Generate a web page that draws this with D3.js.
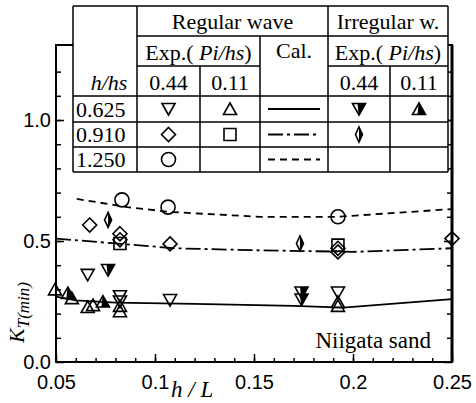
<!DOCTYPE html>
<html>
<head>
<meta charset="utf-8">
<script src="https://cdn.jsdelivr.net/npm/d3@7"></script>
<style>
  body { margin: 0; background: #fff; }
  svg { display: block; }
</style>
</head>
<body>
<div id="chart"></div>
<script>
// measured points, [h/L, K_T(min)]
const regDown = [[0.066, 0.36], [0.0823, 0.272], [0.0823, 0.25], [0.1076, 0.256], [0.1924, 0.287]]      // regular, Pi/hs 0.44, h/hs 0.625
const regUp = [[0.0495, 0.30], [0.058, 0.264], [0.066, 0.227], [0.0687, 0.235], [0.0823, 0.232], [0.0823, 0.21], [0.1924, 0.248], [0.1924, 0.232]] // regular, 0.11, 0.625
const irrDown = [[0.0763, 0.38], [0.174, 0.287], [0.174, 0.258]]   // irregular, 0.44, 0.625
const irrUp = [[0.056, 0.285], [0.0737, 0.25]]                      // irregular, 0.11, 0.625
const regDiamond = [[0.067, 0.566], [0.0823, 0.53], [0.0823, 0.505], [0.1076, 0.488], [0.1924, 0.47], [0.1924, 0.455], [0.25, 0.51]] // regular, 0.44, 0.910
const regSquare = [[0.0823, 0.49], [0.1924, 0.483]]                 // regular, 0.11, 0.910
const irrDiamond = [[0.0763, 0.587], [0.1732, 0.49]]                // irregular, 0.44, 0.910
const regCircle = [[0.0833, 0.67], [0.1066, 0.64], [0.1924, 0.60]] // regular, 0.44, 1.250

// calculated curves
const calSolid = [[0.05, 0.27], [0.06, 0.255], [0.08, 0.245], [0.12, 0.24], [0.17, 0.232], [0.195, 0.225], [0.25, 0.26]]
const calDashDot = [[0.05, 0.51], [0.08, 0.49], [0.11, 0.47], [0.15, 0.462], [0.2, 0.455], [0.25, 0.47]]
const calDashed = [[0.0605, 0.674], [0.086, 0.64], [0.1076, 0.62], [0.153, 0.6], [0.192, 0.6], [0.25, 0.632]]

const xTicks = [0.05, 0.1, 0.15, 0.2, 0.25]
const xTickLabels = ['0.05', '0.1', '0.15', '0.2', '0.25']
const yTicks = [0, 0.5, 1.0]
const yTickLabels = ['0.0', '0.5', '1.0']

const hhsRows = ['0.625', '0.910', '1.250']

const width = 476
const height = 403
const sans = '"Liberation Sans", Arial, sans-serif'
const serif = '"Liberation Serif", "Times New Roman", serif'

const svg = d3.select('#chart').append('svg')
  .attr('width', width)
  .attr('height', height)

const x = d3.scaleLinear().domain([0.05, 0.25]).range([56, 452])
const y = d3.scaleLinear().domain([0, 1.31]).range([362, 45])

// minor ticks
svg.append('g')
  .attr('transform', 'translate(0,362)')
  .call(d3.axisBottom(x).tickValues(d3.range(0.06, 0.25, 0.01)).tickSize(-4).tickFormat(''))
svg.append('g')
  .attr('transform', 'translate(56,0)')
  .call(d3.axisLeft(y).tickValues(d3.range(0.1, 1.3, 0.1)).tickSize(-5).tickFormat(''))
svg.append('g')
  .attr('transform', 'translate(452,0)')
  .call(d3.axisRight(y).tickValues(d3.range(0.1, 1.3, 0.1)).tickSize(-5).tickFormat(''))

// major ticks + labels
svg.append('g')
  .attr('class', 'xaxis')
  .attr('transform', 'translate(0,362)')
  .call(d3.axisBottom(x).tickValues(xTicks).tickSize(-8).tickPadding(13)
    .tickFormat((d, i) => xTickLabels[i]))
svg.append('g')
  .attr('class', 'yaxis')
  .attr('transform', 'translate(56,0)')
  .call(d3.axisLeft(y).tickValues(yTicks).tickSize(-8).tickPadding(5)
    .tickFormat((d, i) => yTickLabels[i]))
svg.append('g')
  .attr('transform', 'translate(452,0)')
  .call(d3.axisRight(y).tickValues(yTicks).tickSize(-8).tickFormat(''))

svg.selectAll('.domain').remove()
svg.selectAll('.tick line').attr('stroke', '#000').attr('stroke-width', 1.5)
svg.selectAll('.xaxis text, .yaxis text')
  .style('font-family', sans).style('font-size', '20px').attr('fill', '#000')

// frame
svg.append('rect')
  .attr('x', 56).attr('y', 45)
  .attr('width', 396).attr('height', 317)
  .attr('fill', 'none').attr('stroke', '#000').attr('stroke-width', 2)
svg.append('line')
  .attr('x1', 452).attr('x2', 452).attr('y1', 45).attr('y2', 362)
  .attr('stroke', '#000').attr('stroke-width', 3)

// calculated curves
const line = d3.line().x(d => x(d[0])).y(d => y(d[1]))
const curveStyles = [
  {data: calSolid, dash: null},
  {data: calDashDot, dash: '15,4,3,4'},
  {data: calDashed, dash: '7,5'}
]
curveStyles.forEach(c => {
  svg.append('path')
    .datum(c.data)
    .attr('d', line)
    .attr('fill', 'none')
    .attr('stroke', '#000')
    .attr('stroke-width', 1.8)
    .attr('stroke-dasharray', c.dash)
})

// marker shapes, centred on 0,0
const shapes = {
  down: {outline: 'M-6.5,-5.5L6.5,-5.5L0,6Z'},
  up: {outline: 'M-6.5,5.5L6.5,5.5L0,-6Z'},
  downHalf: {outline: 'M-6.5,-5.5L6.5,-5.5L0,6Z', fill: 'M-1.5,-5.5L6.5,-5.5L0,6L-0.5,4.5Z'},
  upHalf: {outline: 'M-6.5,5.5L6.5,5.5L0,-6Z', fill: 'M-1.5,5.5L6.5,5.5L0,-6L-0.5,-4.5Z'},
  diamond: {outline: 'M0,-7L7,0L0,7L-7,0Z'},
  thinDiamond: {outline: 'M0,-7.5L3.5,0L0,7.5L-3.5,0Z', fill: 'M0,-7.5L3.5,0L0,7.5Z'},
  square: {outline: 'M-6,-6H6V6H-6Z'},
  circle: {outline: 'M7,0A7,7 0 1 1 -7,0A7,7 0 1 1 7,0Z'}
}

function drawMarker(g, shape, cx, cy) {
  const s = shapes[shape]
  const m = g.append('g').attr('transform', 'translate(' + cx + ',' + cy + ')')
  if (s.fill) m.append('path').attr('d', s.fill).attr('fill', '#000')
  m.append('path').attr('d', s.outline)
    .attr('fill', 'none').attr('stroke', '#000').attr('stroke-width', 1.6)
}

const seriesList = [
  {data: regCircle, shape: 'circle'},
  {data: regDiamond, shape: 'diamond'},
  {data: regSquare, shape: 'square'},
  {data: irrDiamond, shape: 'thinDiamond'},
  {data: regDown, shape: 'down'},
  {data: regUp, shape: 'up'},
  {data: irrDown, shape: 'downHalf'},
  {data: irrUp, shape: 'upHalf'}
]
const pts = svg.append('g')
seriesList.forEach(s => {
  s.data.forEach(d => drawMarker(pts, s.shape, x(d[0]), y(d[1])))
})

// axis titles
svg.append('text')
  .attr('x', 171).attr('y', 397)
  .style('font-family', serif).style('font-size', '23px').style('font-style', 'italic')
  .text('h / L')

const yt = svg.append('text')
  .attr('transform', 'translate(24,343) rotate(-90)')
  .style('font-family', serif).style('font-style', 'italic')
yt.append('tspan').style('font-size', '22px').text('K')
yt.append('tspan').style('font-size', '17px').attr('dy', 5).text('T(min)')

svg.append('text')
  .attr('x', 431).attr('y', 348)
  .attr('text-anchor', 'end')
  .style('font-family', serif).style('font-size', '23px')
  .text('Niigata sand')

// legend table
const cols = [73, 137, 200, 260, 328, 390, 448]
const rows = [6, 36, 66, 96, 122, 147, 172]
const tbl = svg.append('g')
tbl.append('rect')
  .attr('x', cols[0]).attr('y', rows[0])
  .attr('width', cols[6] - cols[0]).attr('height', rows[6] - rows[0])
  .attr('fill', '#fff')

function seg(x1, y1, x2, y2) {
  tbl.append('line')
    .attr('x1', x1).attr('y1', y1).attr('x2', x2).attr('y2', y2)
    .attr('stroke', '#000').attr('stroke-width', 1.5)
}
seg(cols[0], rows[0], cols[6], rows[0])
seg(cols[1], rows[1], cols[6], rows[1])
seg(cols[1], rows[2], cols[3], rows[2])
seg(cols[4], rows[2], cols[6], rows[2])
for (let r = 3; r <= 6; r++) seg(cols[0], rows[r], cols[6], rows[r])
seg(cols[0], rows[0], cols[0], rows[6])
seg(cols[1], rows[0], cols[1], rows[6])
seg(cols[2], rows[2], cols[2], rows[6])
seg(cols[3], rows[1], cols[3], rows[6])
seg(cols[4], rows[0], cols[4], rows[6])
seg(cols[5], rows[2], cols[5], rows[6])
seg(cols[6], rows[0], cols[6], rows[6])

function cellText(cx, by, parts, anchor) {
  const t = tbl.append('text')
    .attr('x', cx).attr('y', by)
    .attr('text-anchor', anchor || 'middle')
    .style('font-family', serif).style('font-size', '22px')
  parts.forEach(p => {
    t.append('tspan').style('font-style', p[1] ? 'italic' : 'normal').text(p[0])
  })
}
cellText((cols[1] + cols[4]) / 2, 29, [['Regular wave']])
cellText((cols[4] + cols[6]) / 2, 29, [['Irregular w.']])
cellText((cols[1] + cols[3]) / 2, 60, [['Exp.( '], ['Pi/hs', true], [')']])
cellText((cols[4] + cols[6]) / 2, 60, [['Exp.( '], ['Pi/hs', true], [')']])
cellText((cols[3] + cols[4]) / 2, 58, [['Cal.']])
cellText((cols[0] + cols[1]) / 2 + 4, 90, [['h/hs', true]])
cellText((cols[1] + cols[2]) / 2, 90, [['0.44']])
cellText((cols[2] + cols[3]) / 2, 90, [['0.11']])
cellText((cols[4] + cols[5]) / 2, 90, [['0.44']])
cellText((cols[5] + cols[6]) / 2, 90, [['0.11']])
hhsRows.forEach((h, i) => cellText(cols[0] + 3, rows[i + 4] - 5, [[h]], 'start'))

// legend symbols
const rowMid = i => (rows[i + 3] + rows[i + 4]) / 2
const legendMarks = [
  ['down', 1, 0], ['up', 2, 0], ['downHalf', 4, 0], ['upHalf', 5, 0],
  ['diamond', 1, 1], ['square', 2, 1], ['thinDiamond', 4, 1],
  ['circle', 1, 2]
]
legendMarks.forEach(m => {
  drawMarker(tbl, m[0], (cols[m[1]] + cols[m[1] + 1]) / 2, rowMid(m[2]))
})
curveStyles.forEach((c, i) => {
  tbl.append('line')
    .attr('x1', cols[3] + 8).attr('x2', cols[4] - 8)
    .attr('y1', rowMid(i)).attr('y2', rowMid(i))
    .attr('stroke', '#000').attr('stroke-width', 1.8)
    .attr('stroke-dasharray', c.dash)
})
</script>
</body>
</html>
